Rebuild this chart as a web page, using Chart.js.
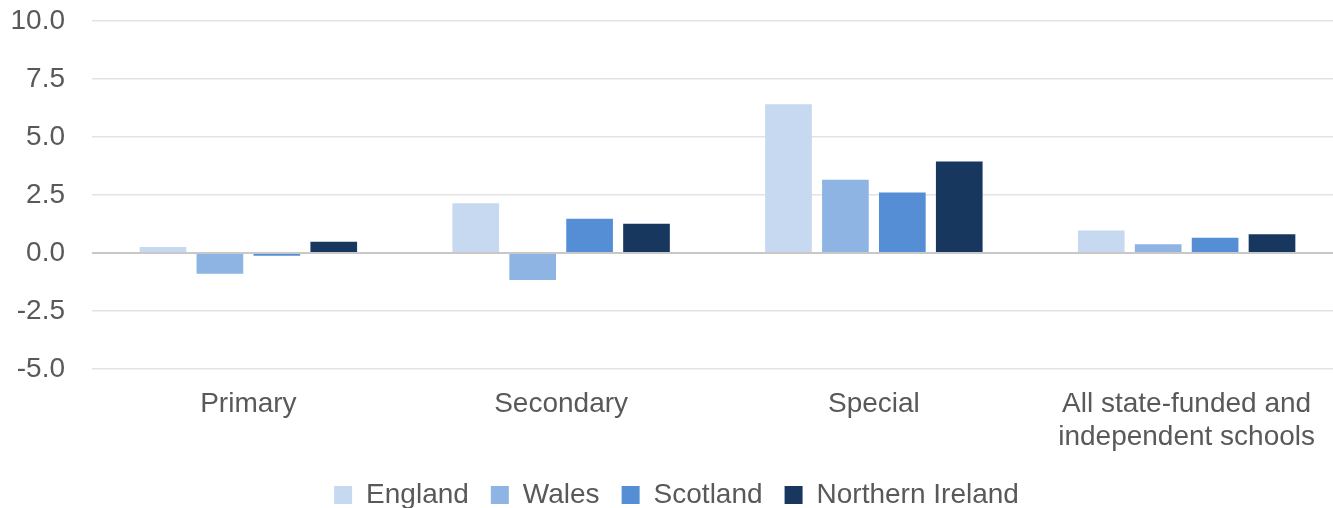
<!DOCTYPE html>
<html>
<head>
<meta charset="utf-8">
<script src="https://cdn.jsdelivr.net/npm/chart.js@4.4.1/dist/chart.umd.min.js"></script>
<style>
  html, body { margin: 0; padding: 0; background: #ffffff; overflow: hidden; }
  #wrap { width: 1345px; height: 519px; }
</style>
</head>
<body>
<div id="wrap"><canvas id="c" width="1345" height="519"></canvas></div>
<script>
const categories = ["Primary", "Secondary", "Special", ["All state-funded and", "independent schools"]];
const seriesNames = ["England", "Wales", "Scotland", "Northern Ireland"];
const england = [0.26, 2.14, 6.4, 0.97];
const wales = [-0.9, -1.17, 3.15, 0.37];
const scotland = [-0.12, 1.47, 2.6, 0.65];
const northernIreland = [0.48, 1.26, 3.94, 0.8];
const colors = ["#c6d9f1", "#8db4e2", "#558ed5", "#17375e"];
const yTicks = [-5, -2.5, 0, 2.5, 5, 7.5, 10];

const seriesValues = [england, wales, scotland, northernIreland];
const font = { family: "'Liberation Sans', Arial, sans-serif", size: 28 };

new Chart(document.getElementById('c'), {
  type: 'bar',
  data: {
    labels: categories,
    datasets: seriesNames.map((n, i) => ({
      label: n,
      data: seriesValues[i],
      backgroundColor: colors[i],
      borderWidth: 0,
      categoryPercentage: 0.728,
      barPercentage: 0.82
    }))
  },
  options: {
    responsive: false,
    animation: false,
    layout: { padding: { top: 0, left: 10, right: 2, bottom: 0 } },
    plugins: {
      tooltip: { enabled: false },
      legend: {
        position: 'bottom',
        labels: {
          font: font,
          color: '#595959',
          boxWidth: 18,
          boxHeight: 18,
          padding: 22
        }
      }
    },
    scales: {
      x: {
        grid: { display: false, drawTicks: false },
        border: { display: false },
        ticks: { font: font, color: '#595959', padding: 18, maxRotation: 0 },
        afterFit: (s) => { s.height = 90; }
      },
      y: {
        min: yTicks[0],
        max: yTicks[yTicks.length - 1],
        afterBuildTicks: (s) => { s.ticks = yTicks.map(v => ({ value: v })); },
        afterFit: (s) => { s.width = 82; },
        grid: {
          drawTicks: true,
          tickLength: 23,
          tickColor: 'rgba(0,0,0,0)',
          color: (ctx) => ctx.tick && ctx.tick.value === 0 ? '#c8c8c8' : '#e3e3e3',
          lineWidth: (ctx) => ctx.tick && ctx.tick.value === 0 ? 2 : 1.5
        },
        border: { display: false },
        ticks: {
          font: font,
          color: '#595959',
          padding: 4,
          callback: (v) => Number(v).toFixed(1)
        }
      }
    }
  }
});
</script>
</body>
</html>
